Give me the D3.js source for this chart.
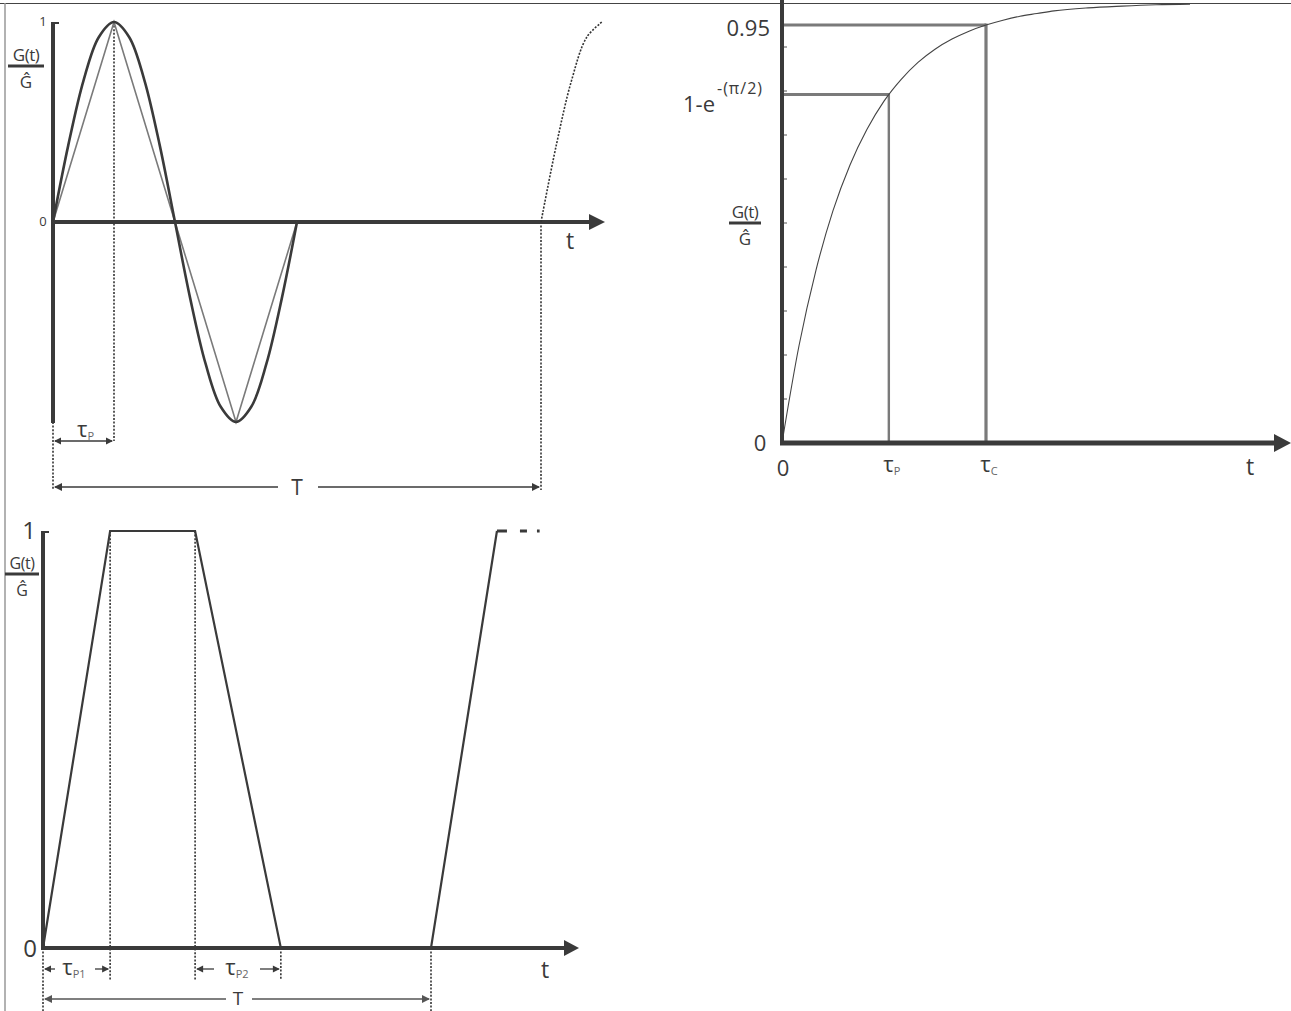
<!DOCTYPE html>
<html><head><meta charset="utf-8">
<script src="https://cdn.jsdelivr.net/npm/d3@7"></script>
<style>
body{margin:0;background:#fff}
svg{display:block}
text{font-family:"Open Sans",sans-serif;fill:#3a3a3a}
</style>
</head><body>
<svg id="c" width="1291" height="1011"></svg>
<script>
// ---------- DATA ----------
// Top-left: sine pulse and its triangular approximation (time in units of tauP)
const sineT = [0,0.25,0.5,0.75,1,1.25,1.5,1.75,2,2.25,2.5,2.75,3,3.25,3.5,3.75,4];
const sineV = [0,0.383,0.707,0.924,1,0.924,0.707,0.383,0,-0.383,-0.707,-0.924,-1,-0.924,-0.707,-0.383,0];
const triT = [0,1,2,3,4];
const triV = [0,1,0,-1,0];
const nextT = [8,8.25,8.5,8.75,9];
const nextV = [0,0.383,0.707,0.924,1];
const tlPeriod = 8, tlTauP = 1;
const tlYTicks = [{v:1,label:"1"},{v:0,label:"0"}];

// Top-right: step response (time in units of tau)
const expT = [0,0.25,0.5,0.75,1,1.25,1.5,1.75,2,2.25,2.5,2.75,3,3.25,3.5,3.75,4,4.5,5,5.5,6];
const expV = [0,0.221,0.393,0.528,0.632,0.713,0.777,0.826,0.865,0.895,0.918,0.936,0.950,0.961,0.970,0.976,0.982,0.989,0.993,0.996,0.9975];
const trMarks = [{t:1.571,v:0.792,name:"P"},{t:3.0,v:0.95,name:"C"}];
const trMinorTicks = [0.1,0.2,0.3,0.4,0.5,0.6,0.7,0.8,0.9];

// Bottom: trapezoidal pulse (time, period T = 10)
const trapT = [0,1.73,3.92,6.13,10,11.70];
const trapV = [0,1,1,0,0,1];
const trapDashT = [11.70,12.8];
const trapDashV = [1,1];
const bPeriod = 10, bTauP1End = 1.73, bTauP2Start = 3.92, bTauP2End = 6.13;

// ---------- SETUP ----------
const svg = d3.select("#c");
const dark = "#3a3a3a", grey = "#7a7a7a";

// frame lines
svg.append("line").attr("x1",0).attr("x2",1291).attr("y1",3.5).attr("y2",3.5).attr("stroke","#444").attr("stroke-width",1.2);
svg.append("line").attr("x1",5).attr("x2",5).attr("y1",3).attr("y2",1011).attr("stroke","#999").attr("stroke-width",1.5);

function head(g, x, y, dir, len, half, color){
  const s = dir==="r"?1:-1;
  g.append("path").attr("d",`M${x},${y} L${x - s*len},${y-half} L${x - s*len},${y+half} Z`).attr("fill",color||dark);
}
function ylabel(g, cx, yTop, w, fs){
  g.append("text").attr("x",cx).attr("y",yTop).attr("text-anchor","middle").attr("font-size",fs).attr("letter-spacing",-0.5).text("G(t)");
  g.append("line").attr("x1",cx-w/2).attr("x2",cx+w/2).attr("y1",yTop+5).attr("y2",yTop+5).attr("stroke",dark).attr("stroke-width",3);
  g.append("text").attr("x",cx).attr("y",yTop+27).attr("text-anchor","middle").attr("font-size",fs).text("\u011C");
}
function tau(g, x, y, sub, fs, anchor){
  const t = g.append("text").attr("x",x).attr("y",y).attr("font-size",fs).attr("text-anchor",anchor||"middle");
  t.append("tspan").text("\u03C4");
  t.append("tspan").attr("font-size",fs*0.5).attr("dy",fs*0.12).attr("fill","#666").text(sub);
  return t;
}
function vdot(g, x, y1, y2){
  g.append("line").attr("x1",x).attr("x2",x).attr("y1",y1).attr("y2",y2)
   .attr("stroke","#333").attr("stroke-width",1.6).attr("stroke-dasharray","2,1.6");
}
function dimLine(g, x1, x2, y, color){
  g.append("line").attr("x1",x1).attr("x2",x2).attr("y1",y).attr("y2",y).attr("stroke",color||dark).attr("stroke-width",1.3);
}

// ---------- TOP-LEFT ----------
{
  const g = svg.append("g");
  const x = d3.scaleLinear().domain([0,9]).range([53,602]);
  const y = d3.scaleLinear().domain([-1,1]).range([422,22]);
  const line = d3.line().x(d=>x(d[0])).y(d=>y(d[1]));
  const sm = d3.line().x(d=>x(d[0])).y(d=>y(d[1])).curve(d3.curveCatmullRom.alpha(0.5));

  vdot(g, x(tlTauP), y(1), 441);
  vdot(g, x(0), y(-1), 490);
  vdot(g, x(tlPeriod), y(0), 490);

  g.append("line").attr("x1",x(0)).attr("x2",x(0)).attr("y1",y(1)).attr("y2",y(-1)+1).attr("stroke",dark).attr("stroke-width",4);
  g.append("line").attr("x1",x(0)).attr("x2",x(0)+6).attr("y1",y(1)+1).attr("y2",y(1)+1).attr("stroke",dark).attr("stroke-width",2);
  g.append("line").attr("x1",x(0)).attr("x2",590).attr("y1",y(0)).attr("y2",y(0)).attr("stroke",dark).attr("stroke-width",4);
  head(g, 605, y(0), "r", 16, 8);

  g.append("path").datum(triT.map((t,i)=>[t,triV[i]])).attr("d",line).attr("fill","none").attr("stroke",grey).attr("stroke-width",1.6);
  g.append("path").datum(sineT.map((t,i)=>[t,sineV[i]])).attr("d",sm).attr("fill","none").attr("stroke",dark).attr("stroke-width",2.6);
  g.append("path").datum(nextT.map((t,i)=>[t,nextV[i]])).attr("d",sm).attr("fill","none").attr("stroke","#333").attr("stroke-width",1.6).attr("stroke-dasharray","2,1.5");

  tlYTicks.forEach(d=>{
    g.append("text").attr("x",43).attr("y",y(d.v)+4).attr("text-anchor","middle").attr("font-size",13).text(d.label);
  });
  ylabel(g, 26, 61, 36, 17);
  g.append("text").attr("x",570).attr("y",249).attr("text-anchor","middle").attr("font-size",23).text("t");

  dimLine(g, x(0)+2, x(tlTauP)-2, 441);
  head(g, x(0)+1, 441, "l", 7, 3.5);
  head(g, x(tlTauP)-1, 441, "r", 7, 3.5);
  tau(g, x(0.5)+2, 437, "P", 22);

  const ty = 487;
  dimLine(g, x(0)+2, 278, ty);
  dimLine(g, 318, x(tlPeriod)-2, ty);
  head(g, x(0)+1, ty, "l", 8, 4);
  head(g, x(tlPeriod)-1, ty, "r", 8, 4);
  g.append("text").attr("x",297).attr("y",ty+8).attr("text-anchor","middle").attr("font-size",21).text("T");
}

// ---------- TOP-RIGHT ----------
{
  const g = svg.append("g");
  const x = d3.scaleLinear().domain([0,7]).range([782,1258]);
  const y = d3.scaleLinear().domain([0,1]).range([443,3]);
  const sm = d3.line().x(d=>x(d[0])).y(d=>y(d[1])).curve(d3.curveMonotoneX);

  trMarks.forEach(m=>{
    g.append("line").attr("x1",x(0)).attr("x2",x(m.t)).attr("y1",y(m.v)).attr("y2",y(m.v)).attr("stroke",grey).attr("stroke-width",3);
    g.append("line").attr("x1",x(m.t)).attr("x2",x(m.t)).attr("y1",y(m.v)-1.5).attr("y2",y(0)).attr("stroke",grey).attr("stroke-width",m.name==="C"?3.2:2.4);
  });

  trMinorTicks.forEach(v=>{
    g.append("line").attr("x1",x(0)).attr("x2",x(0)+5).attr("y1",y(v)).attr("y2",y(v)).attr("stroke","#555").attr("stroke-width",1);
  });

  g.append("path").datum(expT.map((t,i)=>[t,expV[i]])).attr("d",sm).attr("fill","none").attr("stroke","#444").attr("stroke-width",1.1);

  g.append("line").attr("x1",x(0)).attr("x2",x(0)).attr("y1",0).attr("y2",y(0)+2).attr("stroke",dark).attr("stroke-width",4);
  g.append("line").attr("x1",x(0)-2).attr("x2",1276).attr("y1",y(0)).attr("y2",y(0)).attr("stroke",dark).attr("stroke-width",5);
  head(g, 1291, y(0), "r", 17, 9);

  g.append("text").attr("x",770).attr("y",y(0.95)+11).attr("text-anchor","end").attr("font-size",22).text("0.95");
  g.append("text").attr("x",715).attr("y",y(0.792)+17).attr("text-anchor","end").attr("font-size",22).text("1-e");
  g.append("text").attr("x",717).attr("y",y(0.792)-1).attr("text-anchor","start").attr("font-size",16).attr("letter-spacing",1).text("-(\u03C0/2)");
  g.append("text").attr("x",760).attr("y",y(0)+8).attr("text-anchor","middle").attr("font-size",22).text("0");
  g.append("text").attr("x",x(0)+1).attr("y",y(0)+33).attr("text-anchor","middle").attr("font-size",22).text("0");
  trMarks.forEach(m=>{ tau(g, x(m.t)+3, y(0)+29, m.name, 22); });
  g.append("text").attr("x",1250).attr("y",y(0)+32).attr("text-anchor","middle").attr("font-size",23).text("t");
  ylabel(g, 745, 218, 32, 17);
}

// ---------- BOTTOM ----------
{
  const g = svg.append("g");
  const x = d3.scaleLinear().domain([0,10]).range([43,431]);
  const y = d3.scaleLinear().domain([0,1]).range([948,531]);
  const line = d3.line().x(d=>x(d[0])).y(d=>y(d[1]));

  vdot(g, x(bTauP1End), y(1), 980);
  vdot(g, x(bTauP2Start), y(1), 980);
  vdot(g, x(bTauP2End), y(0), 980);
  vdot(g, x(0), y(0), 1011);
  vdot(g, x(bPeriod), y(0), 1011);

  g.append("line").attr("x1",x(0)).attr("x2",x(0)).attr("y1",y(1)).attr("y2",y(0)).attr("stroke",dark).attr("stroke-width",4);
  g.append("line").attr("x1",x(0)).attr("x2",x(0)+6).attr("y1",y(1)+1).attr("y2",y(1)+1).attr("stroke",dark).attr("stroke-width",2);
  g.append("line").attr("x1",x(0)-2).attr("x2",565).attr("y1",y(0)).attr("y2",y(0)).attr("stroke",dark).attr("stroke-width",4);
  head(g, 579, y(0), "r", 15, 8);

  g.append("path").datum(trapT.map((t,i)=>[t,trapV[i]])).attr("d",line).attr("fill","none").attr("stroke",dark).attr("stroke-width",2.2);
  g.append("path").datum(trapDashT.map((t,i)=>[t,trapDashV[i]])).attr("d",line).attr("fill","none").attr("stroke",dark).attr("stroke-width",3).attr("stroke-dasharray","10,13,7,10,4");

  g.append("text").attr("x",29).attr("y",y(1)+8).attr("text-anchor","middle").attr("font-size",24).text("1");
  g.append("text").attr("x",30).attr("y",y(0)+9).attr("text-anchor","middle").attr("font-size",24).text("0");
  ylabel(g, 22, 569, 34, 16);
  g.append("text").attr("x",545).attr("y",978).attr("text-anchor","middle").attr("font-size",23).text("t");

  const dy = 969;
  dimLine(g, x(0)+2, 55, dy); head(g, x(0)+1, dy, "l", 7, 3.5);
  dimLine(g, 95, x(bTauP1End)-2, dy); head(g, x(bTauP1End)-1, dy, "r", 7, 3.5);
  tau(g, 74, 975, "P1", 22);
  dimLine(g, x(bTauP2Start)+2, 214, dy); head(g, x(bTauP2Start)+1, dy, "l", 7, 3.5);
  dimLine(g, 260, x(bTauP2End)-2, dy); head(g, x(bTauP2End)-1, dy, "r", 7, 3.5);
  tau(g, 237, 975, "P2", 22);
  const ty = 999;
  dimLine(g, x(0)+2, 226, ty, "#555"); head(g, x(0)+1, ty, "l", 8, 4, "#555");
  dimLine(g, 252, x(bPeriod)-2, ty, "#555"); head(g, x(bPeriod)-1, ty, "r", 8, 4, "#555");
  g.append("text").attr("x",238).attr("y",1005).attr("text-anchor","middle").attr("font-size",19).text("T");
}
</script>
</body></html>
